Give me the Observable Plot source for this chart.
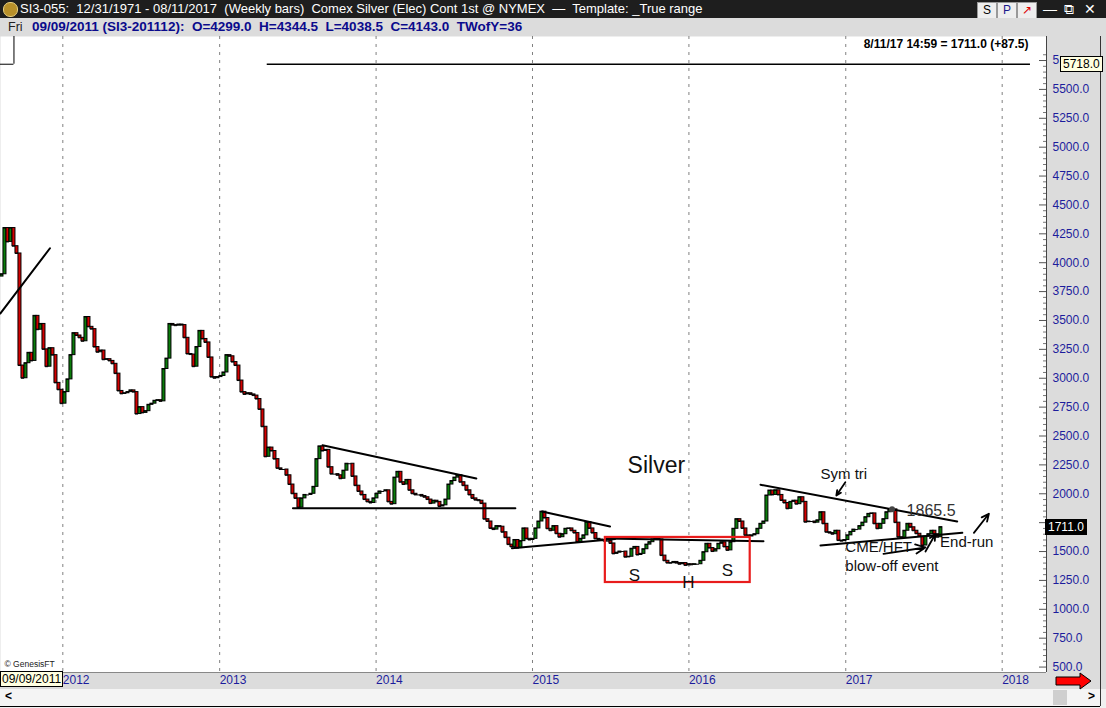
<!DOCTYPE html>
<html><head><meta charset="utf-8">
<script src="https://cdn.jsdelivr.net/npm/d3@7"></script>
<script src="https://cdn.jsdelivr.net/npm/@observablehq/plot@0.6"></script>
<style>
html,body{margin:0;padding:0}
body{width:1106px;height:708px;overflow:hidden;background:#f0f0f0;font-family:"Liberation Sans",Arial,sans-serif;position:relative}
#h1{position:absolute;left:0;top:0;width:1106px;height:18px;background:#1e1e1e;color:#fff;font-size:13px;line-height:18px;white-space:pre}
#h1 .t{position:absolute;left:20px;top:0}
#h1 .ic{position:absolute;left:3px;top:2px;width:13px;height:13px;border-radius:7px;background:#b8902a;border:1px solid #e8d080}
.btn{position:absolute;top:2px;width:18px;height:15px;background:#eee;border:1px solid #999;font-size:12px;line-height:15px;text-align:center;color:#000}
.wb{position:absolute;top:1px;color:#fff;font-size:14px;line-height:16px}
#h2{position:absolute;left:0;top:18px;width:1106px;height:18px;background:#dcdcdc;color:#0a0a8c;font-size:13.5px;line-height:18px;white-space:pre}
#chart{position:absolute;left:0;top:36px}
.box{position:absolute;font-size:12px;line-height:14px;padding:0 2px;border:1px solid #000;white-space:pre}
#scroll{position:absolute;left:0;top:689px;width:1100px;height:17px;background:#f4f4f4;border-bottom:1px solid #000}
</style></head><body>
<div id="h1"><div class="ic"></div><span class="t">SI3-055:  12/31/1971 - 08/11/2017  (Weekly bars)  Comex Silver (Elec) Cont 1st @ NYMEX  —  Template: _True range</span>
<div class="btn" style="left:977px;color:#000">S</div><div class="btn" style="left:997px;color:#1a1a8c">P</div><div class="btn" style="left:1017px;color:#d00">&#8599;</div>
<span class="wb" style="left:1043px">&#8212;</span><span class="wb" style="left:1064px">&#10697;</span><span class="wb" style="left:1084px">&#10005;</span></div>
<div id="h2"><span style="position:absolute;left:8px;color:#222;font-size:12.5px">Fri</span><span style="position:absolute;left:32px;font-weight:bold">09/09/2011 (SI3-201112):  O=4299.0  H=4344.5  L=4038.5  C=4143.0  TWofY=36</span></div>
<div id="chart"></div>
<div id="scroll"><span style="position:absolute;left:5px;top:0;font-weight:bold;font-size:12px">&lt;</span>
<div style="position:absolute;left:1053px;top:1px;width:14px;height:15px;background:#cfcfcf"></div>
<span style="position:absolute;left:1088px;top:0;font-weight:bold;font-size:12px">&gt;</span></div>
<div style="position:absolute;left:1100px;top:36px;width:1px;height:670px;background:#333"></div>
<script>
// ---- data: weekly closes (US cents/oz), first week Fri 2011-08-12 ----
const firstWeek = "2011-08-12";
const firstOpen = 3880;
const closes2011 = [3900,4300,4180,4300,4143,4080,3110,3000,3130,3220,3150,3540,3420,3470,3250,3100,3260,3200,2960,2900,2780];
const closes2012 = [2880,2990,3200,3390,3370,3350,3320,3530,3445,3425,3270,3225,3240,3160,3165,3150,3125,3040,2890,2865,2870,2880,2895,2880,2690,2750,2700,2715,2770,2780,2805,2810,2800,3080,3170,3470,3460,3455,3465,3460,3350,3210,3205,3100,3270,3410,3340,3310,3180,3010,3000,3010];
const closes2013 = [3020,3050,3200,3190,3140,3110,2980,2880,2860,2870,2860,2850,2820,2730,2580,2320,2400,2370,2300,2220,2210,2210,2160,2080,2000,1960,1880,1960,1990,1990,2000,2060,2300,2410,2370,2380,2230,2170,2170,2160,2130,2200,2260,2260,2150,2070,2020,1990,1950,1930,1920,1960];
const closes2014 = [2000,2020,2020,2030,1930,1910,2140,2190,2100,2080,2120,2030,2000,1990,1990,1980,1970,1950,1915,1940,1930,1890,1900,1950,2080,2110,2140,2160,2100,2070,2030,1990,1960,1945,1940,1915,1780,1760,1700,1690,1720,1715,1667,1620,1560,1540,1600,1530,1590,1700,1610,1600];
const closes2015 = [1610,1700,1760,1845,1790,1697,1680,1720,1654,1624,1650,1697,1700,1680,1660,1581,1610,1640,1754,1700,1660,1610,1604,1600,1590,1590,1570,1480,1490,1500,1500,1451,1455,1524,1540,1470,1480,1520,1560,1581,1605,1610,1605,1465,1420,1400,1399,1410,1400,1390,1400,1380];
const closes2016 = [1390,1385,1390,1390,1420,1494,1567,1530,1500,1520,1567,1580,1540,1510,1581,1697,1780,1760,1700,1640,1630,1640,1650,1697,1740,1760,1985,2028,1990,2030,1990,1942,1920,1870,1930,1940,1910,1970,1930,1754,1760,1760,1750,1770,1840,1740,1667,1660,1650,1680,1595,1590,1600];
const closes2017 = [1640,1670,1690,1690,1720,1750,1797,1826,1830,1740,1697,1740,1780,1840,1860,1865,1750,1624,1620,1680,1740,1710,1680,1654,1630,1552,1630,1650,1680,1650,1624,1711];

const yearTicks = ["2012","2013","2014","2015","2016","2017","2018"];
const priceTicks = d3.range(500, 5751, 250);
const minorTicks = d3.range(500, 5801, 50).filter(v => v % 250 !== 0);

// annotations (date, value)
const trendLines = [
  [["2011-08-08",3560],["2011-12-02",4125]],
  [["2013-08-29",2420],["2014-08-23",2132]],
  [["2013-06-21",1875],["2014-11-22",1875]],
  [["2015-01-23",1847],["2015-07-01",1717]],
  [["2014-11-14",1529],["2015-07-13",1609]],
  [["2015-06-19",1613],["2016-06-23",1590]],
  [["2016-06-16",2078],["2017-09-18",1760]],
  [["2016-11-03",1552],["2017-09-30",1662]]
];
const arrows = [
  ["2016-12-31",2100,"2016-12-10",1985],
  ["2017-03-30",1480,"2017-07-06",1535],
  ["2017-07-06",1500,"2017-07-29",1650],
  ["2017-10-27",1662,"2017-12-01",1827]
];
const hsBox = ["2015-06-20",1232,"2016-05-23",1622];
const leftLabels = [
  ["Sym tri","2016-11-03",2167,15,"#111"],
  ["1865.5","2017-05-23",1855,16,"#333"],
  ["CME/HFT","2016-12-31",1535,15,"#111"],
  ["blow-off event","2016-12-31",1370,15,"#111"],
  ["End-run","2017-08-09",1578,15,"#111"]
];
const centerLabels = [
  ["Silver","2015-10-17",2245,23,"#111"],
  ["S","2015-08-27",1293,17,"#111"],
  ["H","2015-12-31",1232,17,"#111"],
  ["S","2016-03-31",1336,17,"#111"]
];
const keyLevel = 5718, keyLevelFrom = "2013-04-22", keyLevelTo = "2018-03-08";
const cursorDate = "2011-09-09";
const pivot = ["2017-04-19",1865.5];
const lastPrice = 1711.0;

// ---- build tables ----
const D = s => new Date(s + "T00:00:00Z");
const DAY = 864e5;
const allCloses = [].concat(closes2011, closes2012, closes2013, closes2014, closes2015, closes2016, closes2017);
const t0 = +D(firstWeek);
const bars = allCloses.map((c, i) => ({
  date: new Date(t0 + i * 7 * DAY),
  open: i === 0 ? firstOpen : allCloses[i - 1],
  close: c
}));
bars.forEach(b => { b.x1 = new Date(+b.date - 3.5 * DAY); b.x2 = new Date(+b.date + 3.5 * DAY); });
const years = yearTicks.map(y => D(y + "-01-01"));
const lines = trendLines.flatMap((seg, i) => seg.map(([d, v]) => ({id: i, date: D(d), v})));
const arrowData = arrows.map(([a, b, c, d]) => ({x1: D(a), y1: b, x2: D(c), y2: d}));
const toLab = ([text, d, v, size, color]) => ({text, date: D(d), v, size, color});
const leftData = leftLabels.map(toLab), centerData = centerLabels.map(toLab);

const green = "#0a7d0a", red = "#d40000", axisBlue = "#1c1c9c";
const xDomain = [new Date(Date.UTC(2011, 7, 8, 14)), new Date(Date.UTC(2018, 3, 14, 10))];
// labels hidden under price flags in the reference
const yLabel = d => d === 5750 ? "5" : d === 1750 ? "" : d.toFixed(1);

const chart = Plot.plot({
  width: 1106, height: 653,
  marginLeft: 0, marginRight: 60, marginTop: 0, marginBottom: 17,
  style: {background: "#dcdcdc", fontFamily: "Liberation Sans, Arial, sans-serif", fontSize: "12px", overflow: "visible"},
  x: {type: "utc", domain: xDomain, axis: null},
  y: {domain: [453, 5958], axis: null},
  marks: [
    Plot.frame({fill: "white", stroke: null}),
    Plot.ruleX(years, {stroke: "#808080", strokeDasharray: "3,5", strokeWidth: 1}),
    Plot.ruleY([keyLevel], {x1: D(keyLevelFrom), x2: D(keyLevelTo), stroke: "#000", strokeWidth: 1.3}),
    Plot.ruleY([keyLevel], {x1: xDomain[0], x2: D(cursorDate), stroke: "#000", strokeWidth: 1}),
    Plot.ruleX([D(cursorDate)], {y1: keyLevel, y2: 5958, stroke: "#000", strokeWidth: 1}),
    Plot.rect(bars, {x1: "x1", x2: "x2", y1: "open", y2: "close",
      fill: d => d.close >= d.open ? green : red, stroke: "#000", strokeWidth: 1}),
    Plot.ruleY(bars, {x1: "x1", x2: "x2", y: "close", stroke: "#000", strokeWidth: 1}),
    Plot.line(lines, {x: "date", y: "v", z: "id", stroke: "#000", strokeWidth: 2}),
    Plot.rect([hsBox], {x1: d => D(d[0]), y1: d => d[1], x2: d => D(d[2]), y2: d => d[3], fill: "none", stroke: "#e81c1c", strokeWidth: 2.2}),
    Plot.arrow(arrowData, {x1: "x1", y1: "y1", x2: "x2", y2: "y2", stroke: "#000", strokeWidth: 1.8, headLength: 9, headAngle: 50}),
    Plot.dot([pivot], {x: d => D(d[0]), y: d => d[1], r: 3, fill: "#444"}),
    Plot.text(leftData, {x: "date", y: "v", text: "text", fontSize: d => d.size, textAnchor: "start", fill: d => d.color}),
    Plot.text(centerData, {x: "date", y: "v", text: "text", fontSize: d => d.size, textAnchor: "middle", fill: d => d.color}),
    Plot.text(["8/11/17 14:59 = 1711.0 (+87.5)"], {frameAnchor: "top-right", dx: -18, dy: 3, lineAnchor: "top", textAnchor: "end", fontWeight: "bold", fontSize: 12, fill: "#000"}),
    Plot.text(["© GenesisFT"], {frameAnchor: "bottom-left", dx: 4, dy: -6, textAnchor: "start", fontSize: 8.5, fill: "#222"}),
    Plot.ruleY(priceTicks, {insetLeft: 1039, stroke: "#555"}),
    Plot.ruleY(minorTicks, {insetLeft: 1043, stroke: "#777"}),
    Plot.ruleX([xDomain[1]], {stroke: "#444"}),
    Plot.ruleY([453], {stroke: "#888"}),
    Plot.axisY(priceTicks, {anchor: "right", tickSize: 0, tickPadding: 6, tickFormat: yLabel, color: axisBlue, fontSize: 12}),
    Plot.axisX(years, {anchor: "bottom", tickSize: 0, tickPadding: 3, textAnchor: "start", tickFormat: d3.utcFormat("%Y"), color: axisBlue, fontSize: 12})
  ]
});
document.getElementById("chart").appendChild(chart);

// price flags & cursor date box, placed with the chart's own scales
const ys = chart.scale("y");
const top0 = 36;
function flag(text, value, left, bg, fg) {
  const el = document.createElement("div");
  el.className = "box";
  el.textContent = text;
  el.style.left = left + "px";
  el.style.top = (top0 + ys.apply(value) - 8) + "px";
  el.style.background = bg; el.style.color = fg;
  document.body.appendChild(el);
}
flag(keyLevel.toFixed(1), keyLevel, 1060, "#ffffe1", "#000");
flag(lastPrice.toFixed(1), lastPrice, 1045, "#000", "#fff");
const cd = document.createElement("div");
cd.className = "box";
cd.textContent = "09/09/2011";
cd.style.cssText += "left:0;top:671px;background:#ffffe1;color:#000;padding:0 1px";
document.body.appendChild(cd);
// red scroll arrow
const ar = document.createElementNS("http://www.w3.org/2000/svg", "svg");
ar.setAttribute("width", 40); ar.setAttribute("height", 18);
ar.style.cssText = "position:absolute;left:1054px;top:672px";
ar.innerHTML = '<polygon points="2,5 26,5 26,1 37,9 26,17 26,13 2,13" fill="#f00" stroke="#000" stroke-width="1"/>';
document.body.appendChild(ar);
</script>
</body></html>
